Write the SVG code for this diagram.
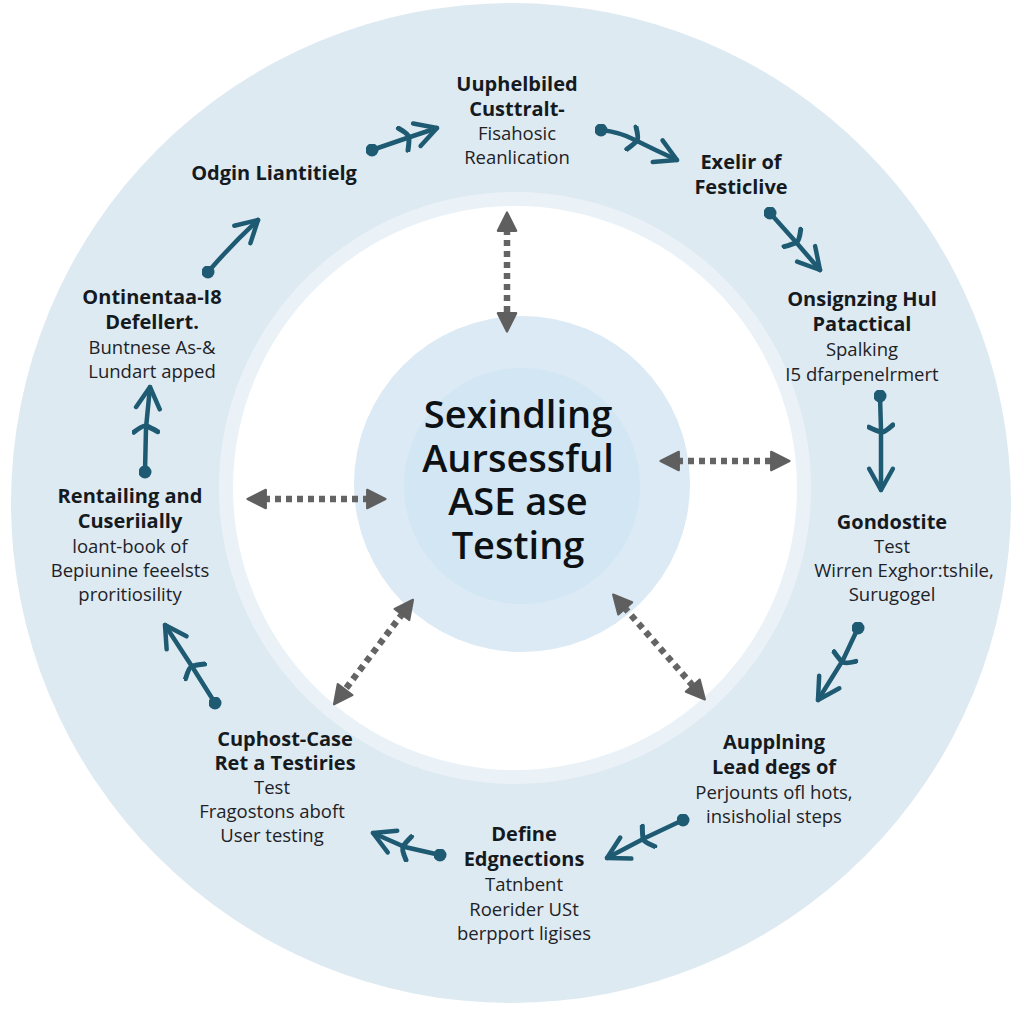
<svg xmlns="http://www.w3.org/2000/svg" width="1024" height="1024" viewBox="0 0 1024 1024">
<defs>
<style>
.t{font-family:"Open Sans","Noto Sans","Liberation Sans",sans-serif;text-anchor:middle;fill:#151a1e}
.b{font-size:20px;font-weight:700}
.r{font-size:18.5px;font-weight:400;fill:#1d2226}
.c{font-size:38px;font-weight:600;fill:#0e1114}
.ta{fill:none;stroke:#1e5b73;stroke-width:4.5;stroke-linecap:round;marker-start:url(#dot);marker-mid:url(#bar);marker-end:url(#tip)}
.ga{fill:none;stroke:#646464;stroke-width:6.5;stroke-dasharray:6 5;marker-start:url(#gh);marker-end:url(#gh)}
</style>
<marker id="tip" viewBox="0 0 24 24" refX="21" refY="12" markerWidth="30" markerHeight="30" markerUnits="userSpaceOnUse" orient="auto"><path d="M4,2.5 L21,12 L4,21.5" fill="none" stroke="#1e5b73" stroke-width="3.6" stroke-linecap="round" stroke-linejoin="round"/></marker>
<marker id="dot" viewBox="0 0 12 12" refX="6" refY="6" markerWidth="13" markerHeight="13" markerUnits="userSpaceOnUse"><circle cx="6" cy="6" r="6" fill="#1e5b73"/></marker>
<marker id="bar" viewBox="-14 -14 28 28" refX="0" refY="0" markerWidth="28" markerHeight="28" markerUnits="userSpaceOnUse" orient="auto"><path d="M-5,-12 Q3,-3 2,0 Q1,4 -3,12" fill="none" stroke="#1e5b73" stroke-width="5" stroke-linecap="round"/></marker>
<marker id="gh" viewBox="0 0 12 12" refX="2" refY="6" markerWidth="22" markerHeight="22" markerUnits="userSpaceOnUse" orient="auto-start-reverse"><path d="M1,1 L11,6 L1,11 Z" fill="#5f5f5f" stroke="#5f5f5f" stroke-width="1.2" stroke-linejoin="round"/></marker>
</defs>
<rect width="1024" height="1024" fill="#ffffff"/>
<g id="rings">
<circle cx="511" cy="503" r="500" fill="#deeaf2"/>
<circle cx="515" cy="488" r="296" fill="#eaf2f7"/>
<circle cx="515" cy="488" r="282" fill="#ffffff"/>
<circle cx="522" cy="484" r="168" fill="#dbeaf4"/>
<circle cx="522" cy="486" r="118" fill="#d3e6f3"/>
</g>
<g id="connectors">
<path class="ga" d="M507,229 L507,315"/>
<path class="ga" d="M677,461 L773,461"/>
<path class="ga" d="M264,499 L369,499"/>
<path class="ga" d="M403,613 L344,691"/>
<path class="ga" d="M624,607 L694,687"/>
<path class="ta" d="M372,150 L407,138 L437,128"/>
<path class="ta" d="M601,130 Q620,132 635,140 Q655,150 677,160"/>
<path class="ta" d="M770,213 L795,241 L820,270"/>
<path class="ta" d="M880,396 L881,430 L881,490"/>
<path class="ta" d="M858,628 L843,660 L818,700"/>
<path class="ta" d="M683,820 L645,838 L607,858"/>
<path class="ta" d="M440,855 L405,847 L373,833"/>
<path class="ta" d="M215,703 L193,668 L165,625"/>
<path class="ta" d="M145,472 L146,428 L150,387"/>
<path class="ta" style="marker-mid:none" d="M208,272 Q232,244 258,220"/>
</g>
<g id="center"><text class="t c"><tspan x="518" y="428">Sexindling</tspan><tspan x="518" y="472">Aursessful</tspan><tspan x="518" y="515">ASE ase</tspan><tspan x="518" y="559">Testing</tspan></text></g>
<g id="n-top"><text class="t b" x="517" y="91">Uuphelbiled</text><text class="t b" x="517" y="116">Custtralt-</text><text class="t r" x="517" y="140">Fisahosic</text><text class="t r" x="517" y="164">Reanlication</text></g>
<g id="n-topright"><text class="t b" x="741" y="169">Exelir of</text><text class="t b" x="741" y="194">Festiclive</text></g>
<g id="n-right"><text class="t b" x="862" y="306">Onsignzing Hul</text><text class="t b" x="862" y="331">Patactical</text><text class="t r" x="862" y="356">Spalking</text><text class="t r" x="862" y="381">I5 dfarpenelrmert</text></g>
<g id="n-right2"><text class="t b" x="892" y="529">Gondostite</text><text class="t r" x="892" y="553">Test</text><text class="t r" x="904" y="577">Wirren Exghor:tshile,</text><text class="t r" x="892" y="601">Surugogel</text></g>
<g id="n-bottomright"><text class="t b" x="774" y="749">Aupplning</text><text class="t b" x="774" y="774">Lead degs of</text><text class="t r" x="774" y="799">Perjounts ofl hots,</text><text class="t r" x="774" y="823">insisholial steps</text></g>
<g id="n-bottom"><text class="t b" x="524" y="841">Define</text><text class="t b" x="524" y="866">Edgnections</text><text class="t r" x="524" y="891">Tatnbent</text><text class="t r" x="524" y="916">Roerider USt</text><text class="t r" x="524" y="940">berpport ligises</text></g>
<g id="n-bottomleft"><text class="t b" x="285" y="746">Cuphost-Case</text><text class="t b" x="285" y="770">Ret a Testiries</text><text class="t r" x="272" y="794">Test</text><text class="t r" x="272" y="818">Fragostons aboft</text><text class="t r" x="272" y="842">User testing</text></g>
<g id="n-left"><text class="t b" x="130" y="503">Rentailing and</text><text class="t b" x="130" y="528">Cuseriially</text><text class="t r" x="130" y="553">loant-book of</text><text class="t r" x="130" y="577">Bepiunine feeelsts</text><text class="t r" x="130" y="601">proritiosility</text></g>
<g id="n-upperleft"><text class="t b" x="152" y="304">Ontinentaa-I8</text><text class="t b" x="152" y="329">Defellert.</text><text class="t r" x="152" y="354">Buntnese As-&amp;</text><text class="t r" x="152" y="378">Lundart apped</text></g>
<g id="n-topleft"><text class="t b" x="274" y="180">Odgin Liantitielg</text></g>
</svg>
